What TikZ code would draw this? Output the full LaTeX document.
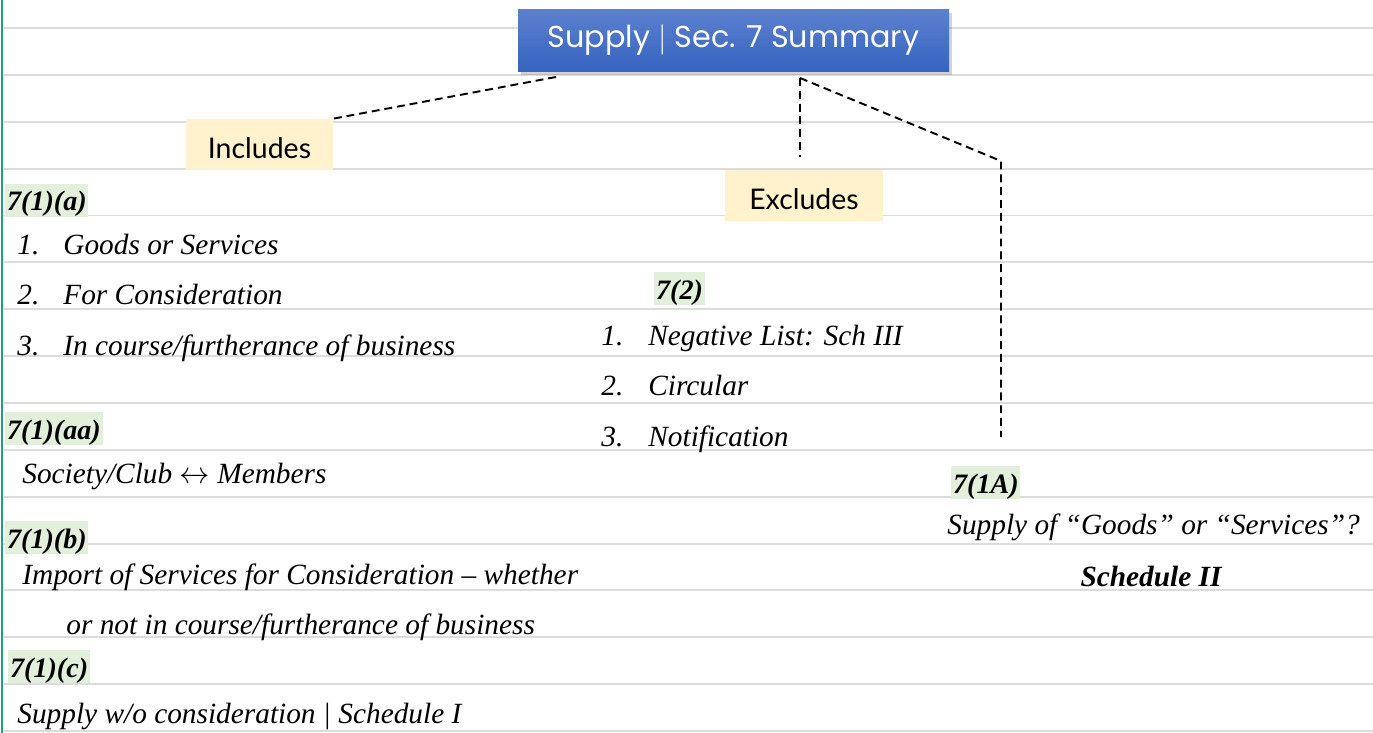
\documentclass[tikz,border=0pt]{standalone}
\usepackage{fontspec}
\setmainfont{Liberation Serif}
\newfontfamily\titlefont{Poppins}
\newfontfamily\tagfont{Lato}
\usetikzlibrary{shadows}
\definecolor{ruleGray}{HTML}{DCDCDC}
\definecolor{marginTeal}{HTML}{1E9E88}
\definecolor{titleTop}{HTML}{5C80CF}
\definecolor{titleBot}{HTML}{3563BF}
\definecolor{tagFill}{HTML}{FFF2CC}
\definecolor{secFill}{HTML}{E2EFDA}
\def\px{0.02cm}
\tikzset{
  ruleline/.style={draw=ruleGray, line width=1.1pt},
  titlebox/.style={top color=titleTop, bottom color=titleBot, text=white,
    minimum width=431*\px, minimum height=62*\px, inner sep=0pt,
    drop shadow={opacity=0.35, shadow xshift=1.5pt, shadow yshift=-2pt},
    font=\titlefont\fontsize{17.2}{20}\selectfont},
  tagbox/.style={fill=tagFill, minimum height=51*\px, inner sep=0pt,
    text height=16.4pt, text depth=0pt, font=\tagfont\fontsize{16.2}{19}\selectfont},
  secbox/.style={fill=secFill, anchor=base west, inner xsep=1pt, inner ysep=2.8pt,
    text height=12.5pt, text depth=0.6pt, font=\bfseries\itshape\fontsize{16}{19}\selectfont},
  item/.style={anchor=base west, inner sep=0pt, font=\itshape\fontsize{16.7}{20}\selectfont},
  link/.style={draw=black, line width=1.1pt, dash pattern=on 4.5pt off 2.8pt},
}
\begin{document}
\begin{tikzpicture}[x=0.02cm,y=-0.02cm]
% --- Page: ruled lines and margin ---
\useasboundingbox (0,0) rectangle (1373,733);
\foreach \k in {0,...,15}
  \draw[ruleline] (4,{28+46.87*\k}) -- (1373,{28+46.87*\k});
\draw[draw=marginTeal, line width=1.2pt] (2,0) -- (2,733);
% --- Title and the two tags ---
\node[titlebox] (title) at (733.5,40.5) {Supply $|$ Sec. 7 Summary};
\node[tagbox, minimum width=147*\px] (incl) at (259.5,144.5) {Includes};
\node[tagbox, minimum width=158*\px] (excl) at (804,195.5) {Excludes};
% connector ends
\coordinate (tl) at (556,77);
\coordinate (tr) at (800,78);
\coordinate (excl-top) at (800,157);
\coordinate (bend) at (1001,161);
\coordinate (sec1A-top) at (1001,437);
\draw[link] (tl) -- (incl.north east);
\draw[link] (tr) -- (excl-top);
\draw[link] (tr) -- (bend) -- (sec1A-top);
% --- Includes column ---
\node[secbox] (s1a) at (5,211) {7(1)(a)};
\node[item] (n1) at (17,255) {1.};
\node[item] (i1) at (63,255) {Goods or Services};
\node[item] (n2) at (17,305) {2.};
\node[item] (i2) at (63,305) {For Consideration};
\node[item] (n3) at (17,356) {3.};
\node[item] (i3) at (63,356) {In course/furtherance of business};
\node[secbox] (s1aa) at (5,439) {7(1)(aa)};
\node[item] (club) at (22,483) {Society/Club $\leftrightarrow$ Members};
\node[secbox] (s1b) at (5,548) {7(1)(b)};
\node[item] (imp1) at (22,584) {Import of Services for Consideration -- whether};
\node[item] (imp2) at (66,634) {or not in course/furtherance of business};
\node[secbox] (s1c) at (8,677) {7(1)(c)};
\node[item] (noc) at (17,723) {Supply w/o consideration | Schedule I};
% --- Excludes column ---
\node[secbox] (s2) at (654,299) {7(2)};
\node[item] (m1) at (601,345) {1.};
\node[item] (e1) at (648,345) {Negative List: Sch III};
\node[item] (m2) at (601,396) {2.};
\node[item] (e2) at (648,396) {Circular};
\node[item] (m3) at (601,446) {3.};
\node[item] (e3) at (648,446) {Notification};
% --- 7(1A) ---
\node[secbox] (s1A) at (951,493) {7(1A)};
\node[item] (gs) at (947,534) {Supply of ``Goods'' or ``Services''?};
\node[item, anchor=base, font=\bfseries\itshape\fontsize{16.7}{20}\selectfont] (sch2) at (1151,586) {Schedule II};
\end{tikzpicture}
\end{document}
